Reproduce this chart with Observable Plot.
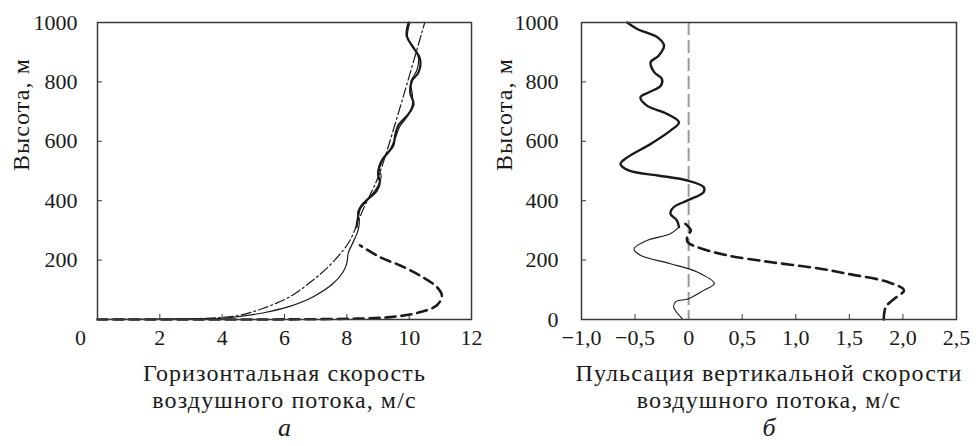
<!DOCTYPE html>
<html>
<head>
<meta charset="utf-8">
<script src="https://cdn.jsdelivr.net/npm/d3@7"></script>
<script src="https://cdn.jsdelivr.net/npm/@observablehq/plot@0.6"></script>
<style>
  html, body { margin: 0; padding: 0; background: #fff; }
  #wrap { position: relative; width: 976px; height: 446px; overflow: hidden; }
  #left, #right { position: absolute; top: 0; }
  #left { left: 0; z-index: 2; }
  #right { left: 480px; z-index: 1; }
  #wrap svg { overflow: visible; }
</style>
</head>
<body>
<div id="wrap"><div id="left"></div><div id="right"></div></div>
<script>
// ---------- Panel а: horizontal wind speed (m/s) vs height (m) ----------
const leftThinX = [0, 2, 3.2, 4.12, 5.3, 6.16, 6.91, 7.56, 7.88, 8.0, 8.05, 8.2, 8.36, 8.4, 8.35, 8.5, 8.8, 9.0, 9.1, 9.05, 9.2, 9.4, 9.55, 9.7, 9.95, 10.1, 10.1, 10.05, 10.25, 10.3, 10.15, 9.95, 10.02];
const leftThinH = [0, 0.5, 2, 5, 22, 44, 76, 121, 160, 190, 225, 260, 300, 330, 360, 390, 420, 450, 480, 510, 545, 575, 610, 650, 685, 720, 760, 800, 840, 880, 915, 950, 1000];

const leftThickX = [8.31, 8.36, 8.42, 8.63, 8.96, 9.06, 9.0, 9.12, 9.33, 9.49, 9.55, 9.65, 9.98, 10.14, 10.03, 10.09, 10.3, 10.35, 10.09, 9.92, 9.98];
const leftThickH = [311, 345, 373, 400, 434, 462, 490, 535, 563, 586, 619, 653, 692, 726, 765, 804, 832, 877, 922, 955, 1000];

const leftDashDotX = [0, 2, 3.2, 3.9, 4.55, 5.3, 6.16, 6.91, 7.45, 7.88, 8.1, 8.53, 8.96, 9.17, 9.82, 10.5];
const leftDashDotH = [0, 1, 3, 6, 14, 37, 76, 132, 182, 233, 266, 372, 468, 529, 754, 1000];

const leftDashedX = [0, 4, 6.2, 8.31, 9.39, 10.25, 10.89, 11.05, 10.89, 10.35, 9.71, 9.06, 8.42];
const leftDashedH = [0, 0, 0.5, 3, 8, 22, 48, 81, 109, 148, 182, 210, 250];

const leftXTicks = [0, 2, 4, 6, 8, 10, 12];
const leftYTicks = [200, 400, 600, 800, 1000];

// ---------- Panel б: vertical velocity pulsation (m/s) vs height (m) ----------
const rightThickX = [-0.09, -0.11, -0.17, -0.14, -0.01, 0.14, 0.14, -0.01, -0.29, -0.56, -0.636, -0.573, -0.355, -0.17, -0.09, -0.20, -0.39, -0.45, -0.37, -0.26, -0.25, -0.32, -0.355, -0.28, -0.23, -0.29, -0.48, -0.573];
const rightThickH = [311, 334, 356, 378, 401, 429, 446, 468, 485, 502, 524, 546, 591, 636, 664, 692, 720, 748, 765, 787, 810, 832, 866, 888, 922, 950, 978, 1000];

const rightThinX = [-0.06, -0.14, -0.12, 0, 0.14, 0.24, 0.08, -0.17, -0.45, -0.51, -0.39, -0.17, -0.09];
const rightThinH = [3, 42, 60, 70, 98, 121, 160, 188, 216, 238, 266, 289, 311];

const rightDashedX = [-0.03, 0.02, -0.01, -0.01, 0.08, 0.36, 0.77, 1.23, 1.48, 1.86, 2.01, 1.92, 1.84, 1.82];
const rightDashedH = [322, 300, 283, 261, 244, 216, 193, 171, 154, 126, 98, 70, 42, 0];

const rightXTicks = [-1.0, -0.5, 0, 0.5, 1.0, 1.5, 2.0, 2.5];
const rightYTicks = [0, 200, 400, 600, 800, 1000];

const zeroLine = [0];

const yTitle = "Высота, м";
const leftTitle = ["Горизонтальная скорость", "воздушного потока, м/с"];
const rightTitle = ["Пульсация вертикальной скорости", "воздушного потока, м/с"];
const panelLetters = ["а", "б"];

// ---------- helpers ----------
const pts = (xs, hs) => xs.map((x, i) => ({x, h: hs[i]}));
const FONT = "'Liberation Serif', 'Times New Roman', serif";
const INK = "#1a1a1a";
const FRAME = "#3a3a3a";
const TITLE_SIZE = 24;
const TICK_SIZE = 22;
const commaFmt = d => d === 0 ? "0" : d3.format(".1f")(d).replace(".", ",").replace("-", "\u2013");

function captionMarks(lines, letter) {
  return [
    Plot.text([lines[0]], {frameAnchor: "bottom", dy: 54, text: d => d, fontSize: TITLE_SIZE, fill: INK, lineAnchor: "middle"}),
    Plot.text([lines[1]], {frameAnchor: "bottom", dy: 81, text: d => d, fontSize: TITLE_SIZE, fill: INK, lineAnchor: "middle"}),
    Plot.text([letter], {frameAnchor: "bottom", dy: 108, text: d => d, fontSize: 26, fontStyle: "italic", fill: INK, lineAnchor: "middle"})
  ];
}

function spaceTitles(svg, titles) {
  d3.select(svg).selectAll("text").filter(function () {
    return titles.includes(this.textContent);
  }).style("letter-spacing", "1.1px");
}

// ---------- left plot ----------
const left = Plot.plot({
  width: 480, height: 446,
  marginLeft: 97, marginRight: 9, marginTop: 22, marginBottom: 127,
  style: {fontFamily: FONT, fontSize: TICK_SIZE + "px", color: INK, background: "transparent", overflow: "visible"},
  x: {domain: [0, 12]},
  y: {domain: [0, 1000]},
  marks: [
    Plot.tickX(leftXTicks.slice(1, -1), {x: d => d, insetTop: 292, stroke: FRAME, strokeWidth: 1}),
    Plot.tickY(leftYTicks.slice(0, -1), {y: d => d, insetRight: 369, stroke: FRAME, strokeWidth: 1}),
    Plot.axisX(leftXTicks.slice(1), {tickSize: 0, tickPadding: 10, tickFormat: d => String(d), label: null, fontSize: TICK_SIZE}),
    Plot.text([leftXTicks[0]], {x: d => d, frameAnchor: "bottom", dx: -17, dy: 10, lineAnchor: "top", text: d => String(d), fontSize: TICK_SIZE, fill: INK}),
    Plot.axisY(leftYTicks, {tickSize: 0, tickPadding: 20, tickFormat: d => String(d), label: null, fontSize: TICK_SIZE}),
    Plot.text([yTitle], {frameAnchor: "left", dx: -76, rotate: -90, text: d => d, fontSize: TITLE_SIZE, fill: INK, lineAnchor: "middle"}),
    Plot.line(pts(leftDashedX, leftDashedH), {x: "x", y: "h", curve: "catmull-rom", stroke: INK, strokeWidth: 2.6, strokeDasharray: "10,6"}),
    Plot.line(pts(leftDashDotX, leftDashDotH), {x: "x", y: "h", curve: "catmull-rom", stroke: INK, strokeWidth: 1.2, strokeDasharray: "10,3,2,3"}),
    Plot.line(pts(leftThinX, leftThinH), {x: "x", y: "h", curve: "catmull-rom", stroke: INK, strokeWidth: 1.2}),
    Plot.line(pts(leftThickX, leftThickH), {x: "x", y: "h", curve: "catmull-rom", stroke: INK, strokeWidth: 2.2}),
    Plot.frame({stroke: FRAME, strokeWidth: 1.5}),
    ...captionMarks(leftTitle, panelLetters[0])
  ]
});
spaceTitles(left, [yTitle, ...leftTitle]);
document.getElementById("left").appendChild(left);

// ---------- right plot ----------
const right = Plot.plot({
  width: 496, height: 446,
  marginLeft: 101, marginRight: 20, marginTop: 22, marginBottom: 127,
  style: {fontFamily: FONT, fontSize: TICK_SIZE + "px", color: INK, background: "transparent", overflow: "visible"},
  x: {domain: [-1, 2.5]},
  y: {domain: [0, 1000]},
  marks: [
    Plot.tickX(rightXTicks.slice(1, -1), {x: d => d, insetTop: 292, stroke: FRAME, strokeWidth: 1}),
    Plot.tickY(rightYTicks.slice(1, -1), {y: d => d, insetRight: 370, stroke: FRAME, strokeWidth: 1}),
    Plot.axisX(rightXTicks, {tickSize: 0, tickPadding: 10, tickFormat: commaFmt, label: null, fontSize: TICK_SIZE}),
    Plot.axisY(rightYTicks, {tickSize: 0, tickPadding: 23, tickFormat: d => String(d), label: null, fontSize: TICK_SIZE}),
    Plot.text([yTitle], {frameAnchor: "left", dx: -77, rotate: -90, text: d => d, fontSize: TITLE_SIZE, fill: INK, lineAnchor: "middle"}),
    Plot.ruleX(zeroLine, {x: d => d, stroke: "#9a9a9a", strokeWidth: 2, strokeDasharray: "13,5"}),
    Plot.line(pts(rightDashedX, rightDashedH), {x: "x", y: "h", curve: "catmull-rom", stroke: INK, strokeWidth: 2.6, strokeDasharray: "11,6"}),
    Plot.line(pts(rightThinX, rightThinH), {x: "x", y: "h", curve: "catmull-rom", stroke: INK, strokeWidth: 1.1}),
    Plot.line(pts(rightThickX, rightThickH), {x: "x", y: "h", curve: "catmull-rom", stroke: INK, strokeWidth: 2.4}),
    Plot.frame({stroke: FRAME, strokeWidth: 1.5}),
    ...captionMarks(rightTitle, panelLetters[1])
  ]
});
spaceTitles(right, [yTitle, ...rightTitle]);
document.getElementById("right").appendChild(right);
</script>
</body>
</html>
